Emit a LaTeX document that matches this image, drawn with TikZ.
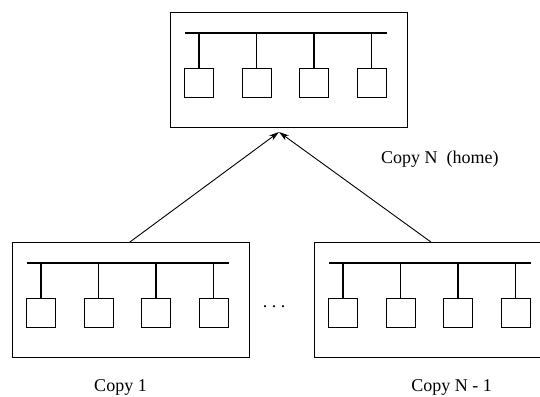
\documentclass[tikz,border=0pt]{standalone}
\usepackage{fontspec}
\setmainfont{Liberation Serif}
\usetikzlibrary{arrows.meta}

\tikzset{
  frame/.style={draw, line width=0.8pt, minimum width=237pt, minimum height=115pt,
                inner sep=0pt, anchor=north west},
  unitbox/.style={draw, line width=0.8pt, minimum size=29pt, inner sep=0pt},
  bus/.style={line width=1.4pt},
  stem/.style={line width=1.2pt},
  captext/.style={font=\fontsize{18}{20}\selectfont, anchor=base, inner sep=0pt},
  link/.style={line width=0.9pt, -{Stealth[length=10pt, width=6pt, inset=3pt]}},
  % one copy: frame, bus line and four attached units
  copy/.pic={
    \node[frame] (-box) at (0,0) {};
    \coordinate (-busL) at (15,21);
    \coordinate (-busR) at (217,21);
    \draw[bus] (-busL) -- (-busR);
    \foreach \i/\x in {1/29,2/86.5,3/144,4/201.5} {
      \node[unitbox] (-u\i) at (\x,71) {};
      \draw[stem] (\x,21) -- (-u\i.north);
    }
  }
}

\begin{document}
\begin{tikzpicture}[x=1pt, y=-1pt]
  \clip (0,0) rectangle (540,396);

  \pic (top) at (170,12) {copy};
  \pic (c1)  at (12,242) {copy};
  \pic (cn)  at (314,242) {copy};

  \coordinate (tip) at (279,132);
  \draw[link] ([xshift=-1pt]c1-box.north) -- (tip);
  \draw[link] ([xshift=-2pt]cn-box.north) -- (tip);

  \node[captext, anchor=base west] (home) at (381,163) {Copy N~~(home)};
  \node[captext] (lbl1) at (120.5,391) {Copy 1};
  \node[captext] (lbln) at (451.5,391) {Copy N - 1};
  \node[captext] (dots) at (274,307) {.\ .\ .};
\end{tikzpicture}
\end{document}
